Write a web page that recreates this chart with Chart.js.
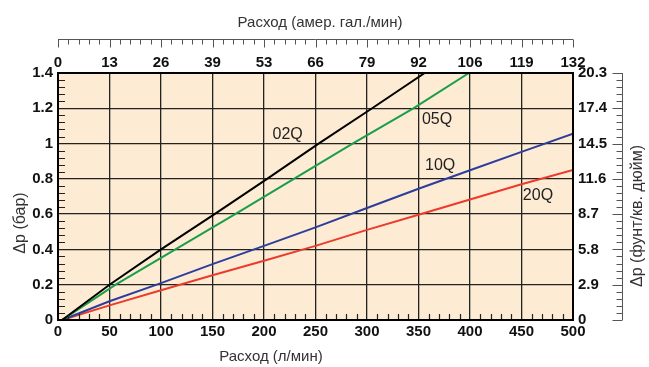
<!DOCTYPE html>
<html>
<head>
<meta charset="utf-8">
<script src="https://cdn.jsdelivr.net/npm/chart.js@4.4.1/dist/chart.umd.min.js"></script>
<style>
  html, body { margin: 0; padding: 0; background: #fff; }
  canvas { display: block; }
</style>
</head>
<body>
<canvas id="flowChart" width="649" height="367"></canvas>
<script>
// values (flow in l/min, pressure drop in bar)
const seriesNames = ['02Q', '05Q', '10Q', '20Q'];
const dpSteps = [0, 0.2, 0.4, 0.6, 0.8, 1.0, 1.2, 1.4];
const q02Flow = [4, 50, 100, 152, 203, 253, 305, 356];
const q05Flow = [4, 56, 114, 172, 229, 286, 345, 399];
const flowGrid = [4, 50, 100, 150, 200, 250, 300, 350, 400, 450, 500];
const q10Dp = [0, 0.106, 0.209, 0.317, 0.42, 0.525, 0.635, 0.744, 0.849, 0.953, 1.056];
const q20Dp = [0, 0.083, 0.169, 0.254, 0.336, 0.42, 0.511, 0.597, 0.683, 0.769, 0.85];

const leftTickLabels = ['0', '0.2', '0.4', '0.6', '0.8', '1', '1.2', '1.4'];
const topTickValues = [0, 13.2, 26.4, 39.6, 52.8, 66, 79.2, 92.4, 105.6, 118.8, 132];
const topTickLabels = ['0', '13', '26', '39', '53', '66', '79', '92', '106', '119', '132'];
const rightTickValues = [0, 2.9, 5.8, 8.7, 11.6, 14.5, 17.4, 20.3];
const rightTickLabels = ['0', '2.9', '5.8', '8.7', '11.6', '14.5', '17.4', '20.3'];

const seriesColors = ['#000000', '#1b9e4b', '#2c3d9c', '#ec3a2d'];
// where each curve name sits, in data units (l/min, bar)
const nameSpots = [[223, 1.05], [368, 1.137], [371, 0.876], [466, 0.706]];

const plotFill = '#fdecd3';
const fontFamily = "'Liberation Sans', Arial, Helvetica, sans-serif";

function toPoints(xs, ys) {
  return xs.map((x, i) => ({ x, y: ys[i] }));
}

function drawText(ctx, text, x, y, angle) {
  ctx.save();
  ctx.translate(x, y);
  if (angle) ctx.rotate(angle);
  ctx.fillText(text, 0, 0);
  ctx.restore();
}

const chartDecor = {
  id: 'chartDecor',
  beforeDraw(chart) {
    const { ctx, chartArea: a } = chart;
    ctx.save();
    ctx.fillStyle = plotFill;
    ctx.fillRect(a.left, a.top, a.right - a.left, a.bottom - a.top);
    ctx.restore();
  },
  afterDatasetsDraw(chart) {
    const { ctx, chartArea: a, scales } = chart;
    ctx.save();

    // minor ticks inside the plot, left and bottom
    ctx.strokeStyle = '#222';
    ctx.lineWidth = 1.2;
    ctx.beginPath();
    for (let i = 1; i < 35; i++) {
      if (i % 5 === 0) continue;
      const y = Math.round(scales.y.getPixelForValue(i * 0.04)) + 0.5;
      ctx.moveTo(a.left, y);
      ctx.lineTo(a.left + 7, y);
    }
    for (let i = 1; i < 50; i++) {
      if (i % 5 === 0) continue;
      const x = Math.round(scales.x.getPixelForValue(i * 10)) + 0.5;
      ctx.moveTo(x, a.bottom);
      ctx.lineTo(x, a.bottom - 6);
    }
    ctx.stroke();

    // frame
    ctx.strokeStyle = '#000';
    ctx.lineWidth = 2;
    ctx.strokeRect(a.left, a.top, a.right - a.left, a.bottom - a.top);

    // detached top axis (US gal/min)
    const topY = 39.5;
    ctx.strokeStyle = '#555';
    ctx.lineWidth = 1;
    ctx.beginPath();
    ctx.moveTo(a.left, topY);
    ctx.lineTo(a.right, topY);
    for (let i = 0; i <= 50; i++) {
      const x = Math.round(scales.x2.getPixelForValue(i * 2.64)) + 0.5;
      ctx.moveTo(x, topY);
      ctx.lineTo(x, topY + (i % 5 === 0 ? 8 : 5));
    }
    // detached right axis (psi)
    const rightX = 622.5;
    ctx.moveTo(rightX, a.top);
    ctx.lineTo(rightX, a.bottom);
    for (let i = 0; i <= 35; i++) {
      const y = Math.round(scales.y2.getPixelForValue(i * 0.58)) + 0.5;
      ctx.moveTo(rightX, y);
      ctx.lineTo(rightX - (i % 5 === 0 ? 10 : 6), y);
    }
    ctx.stroke();

    // curve names
    ctx.fillStyle = '#222';
    ctx.font = `16px ${fontFamily}`;
    ctx.textAlign = 'center';
    ctx.textBaseline = 'middle';
    seriesNames.forEach((name, i) => {
      const [fx, fy] = nameSpots[i];
      ctx.fillText(name, scales.x.getPixelForValue(fx), scales.y.getPixelForValue(fy));
    });
    ctx.restore();
  },
  afterDraw(chart) {
    const { ctx } = chart;
    ctx.save();
    ctx.fillStyle = '#333';
    ctx.textAlign = 'center';
    ctx.textBaseline = 'middle';
    ctx.font = `15px ${fontFamily}`;
    drawText(ctx, 'Расход (амер. гал./мин)', 320, 23);
    drawText(ctx, 'Расход (л/мин)', 271, 357);
    ctx.font = `16px ${fontFamily}`;
    drawText(ctx, 'Δp (бар)', 21, 223, -Math.PI / 2);
    drawText(ctx, 'Δp (фунт/кв. дюйм)', 638, 216, -Math.PI / 2);
    ctx.restore();
  }
};

const tickFont = { family: fontFamily, size: 15, weight: 'bold' };

const datasets = [
  toPoints(q02Flow, dpSteps),
  toPoints(q05Flow, dpSteps),
  toPoints(flowGrid, q10Dp),
  toPoints(flowGrid, q20Dp)
].map((data, i) => ({
  label: seriesNames[i],
  data,
  borderColor: seriesColors[i],
  borderWidth: 2,
  pointRadius: 0,
  tension: 0,
  fill: false
}));

new Chart(document.getElementById('flowChart'), {
  type: 'line',
  data: { datasets },
  plugins: [chartDecor],
  options: {
    responsive: false,
    animation: false,
    devicePixelRatio: 1,
    layout: { padding: 0 },
    plugins: { legend: { display: false }, tooltip: { enabled: false } },
    scales: {
      x: {
        type: 'linear',
        position: 'bottom',
        min: 0,
        max: 500,
        ticks: { stepSize: 50, font: tickFont, color: '#111', padding: 3, maxRotation: 0 },
        grid: { color: '#222', lineWidth: 1.3, drawTicks: false },
        border: { display: false },
        afterFit: (scale) => { scale.height = 47; }
      },
      x2: {
        type: 'linear',
        position: 'top',
        min: 0,
        max: 132,
        afterBuildTicks: (scale) => { scale.ticks = topTickValues.map((value) => ({ value })); },
        ticks: { font: tickFont, color: '#111', padding: 1, maxRotation: 0, callback: (v, i) => topTickLabels[i] },
        grid: { display: false, drawTicks: false },
        border: { display: false },
        afterFit: (scale) => { scale.height = 73; }
      },
      y: {
        type: 'linear',
        position: 'left',
        min: 0,
        max: 1.4,
        ticks: { stepSize: 0.2, font: tickFont, color: '#111', padding: 5, callback: (v, i) => leftTickLabels[i] },
        grid: { color: '#222', lineWidth: 1.3, drawTicks: false },
        border: { display: false },
        afterFit: (scale) => { scale.width = 58; }
      },
      y2: {
        type: 'linear',
        position: 'right',
        min: 0,
        max: 20.3,
        afterBuildTicks: (scale) => { scale.ticks = rightTickValues.map((value) => ({ value })); },
        ticks: { font: tickFont, color: '#111', padding: 5, callback: (v, i) => rightTickLabels[i] },
        grid: { display: false, drawTicks: false },
        border: { display: false },
        afterFit: (scale) => { scale.width = 76; }
      }
    }
  }
});
</script>
</body>
</html>
